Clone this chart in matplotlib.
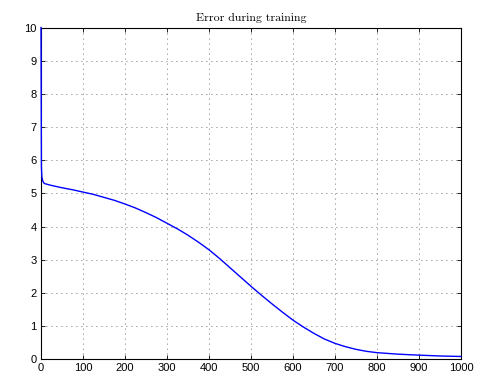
import matplotlib
matplotlib.use("Agg")
import matplotlib.pyplot as plt

iterations = [0, 1, 2, 4, 7, 10, 25, 50, 75, 100, 125, 150, 175, 200, 225, 250, 275,
              300, 325, 350, 375, 400, 425, 450, 475, 500, 525, 550, 575, 600, 625,
              650, 675, 700, 725, 750, 775, 800, 850, 900, 950, 1000]
error = [10.0, 5.8, 5.5, 5.38, 5.31, 5.29, 5.24, 5.17, 5.11, 5.04, 4.97, 4.88, 4.79,
         4.68, 4.56, 4.42, 4.27, 4.10, 3.93, 3.74, 3.53, 3.30, 3.04, 2.76, 2.48,
         2.20, 1.93, 1.67, 1.42, 1.18, 0.97, 0.78, 0.61, 0.48, 0.38, 0.30, 0.24,
         0.20, 0.155, 0.125, 0.10, 0.085]

x_ticks = list(range(0, 1001, 100))
y_ticks = list(range(0, 11))
title = "Error during training"

plt.rcParams['font.family'] = ['Liberation Sans', 'DejaVu Sans']

fig = plt.figure(figsize=(4.78, 3.76), dpi=100)
ax = fig.add_axes([41/478, (376-359.3)/376, (461-41)/478, (359.3-27.5)/376])
ax.plot(iterations, error, color=(0, 0, 1), lw=1.0, zorder=3, clip_on=False)
ax.set_xlim(0, 1000)
ax.set_ylim(0, 10)
ax.set_xticks(x_ticks)
ax.set_yticks(y_ticks)
ax.tick_params(direction='in', top=True, right=True, labelsize=8, length=3, width=0.6, pad=3)
ax.grid(True, linestyle=(0, (1, 5)), color='black', lw=0.6, alpha=0.75)
for s in ax.spines.values():
    s.set_linewidth(0.8)
ax.set_title(title, fontsize=8.5, family=['cmr10', 'DejaVu Serif'], pad=5)
fig.savefig("out.png", dpi=100)
